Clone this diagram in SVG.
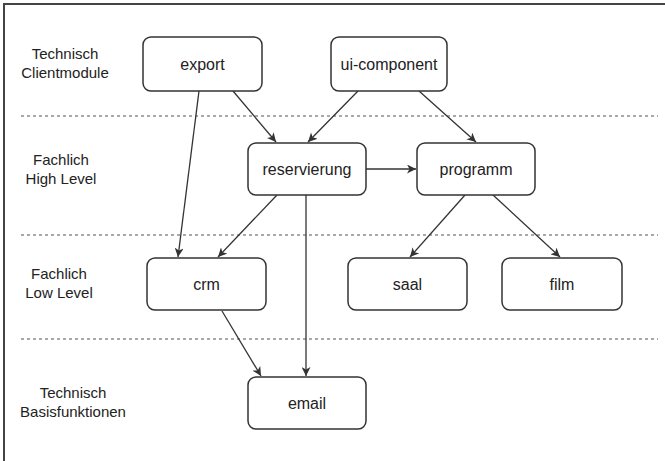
<svg xmlns="http://www.w3.org/2000/svg" width="665" height="461" viewBox="0 0 665 461">
<style>
  .bg { fill: #ffffff; }
  .frame { stroke: #444444; stroke-width: 2; fill: none; }
  .sep { stroke: #555555; stroke-width: 1.2; stroke-dasharray: 3 3; fill: none; }
  .box { fill: #ffffff; stroke: #333333; stroke-width: 1.5; }
  .lbl { font-family: "Liberation Sans", Arial, sans-serif; font-size: 16px; fill: #222222; text-anchor: middle; }
  .side { font-family: "Liberation Sans", Arial, sans-serif; font-size: 15px; fill: #222222; text-anchor: middle; }
  .edge { stroke: #333333; stroke-width: 1.3; fill: none; marker-end: url(#arr); }
</style>
<defs>
  <marker id="arr" markerUnits="userSpaceOnUse" markerWidth="10" markerHeight="9" refX="9" refY="4.5" orient="auto">
    <path d="M0,0 L9,4.5 L0,9 L2.5,4.5 Z" fill="#333333"/>
  </marker>
</defs>
<rect class="bg" x="0" y="0" width="665" height="461"/>
<g id="frame">
  <path class="frame" d="M4,461 L4,4 L665,4"/>
</g>
<g id="separators">
  <line class="sep" x1="21" y1="116" x2="658" y2="116"/>
  <line class="sep" x1="21" y1="235" x2="658" y2="235"/>
  <line class="sep" x1="21" y1="339" x2="658" y2="339"/>
</g>
<g id="layer-labels">
  <text class="side" x="65" y="59">Technisch</text>
  <text class="side" x="65" y="78">Clientmodule</text>
  <text class="side" x="61" y="165">Fachlich</text>
  <text class="side" x="61" y="184">High Level</text>
  <text class="side" x="59" y="279">Fachlich</text>
  <text class="side" x="59" y="298">Low Level</text>
  <text class="side" x="73" y="398">Technisch</text>
  <text class="side" x="73" y="417">Basisfunktionen</text>
</g>
<g id="connectors">
  <line class="edge" x1="199" y1="91" x2="178" y2="257"/>
  <line class="edge" x1="233" y1="91" x2="276" y2="142"/>
  <line class="edge" x1="358" y1="91" x2="308" y2="142"/>
  <line class="edge" x1="419" y1="91" x2="476" y2="142"/>
  <line class="edge" x1="366" y1="169" x2="416" y2="169"/>
  <line class="edge" x1="277" y1="195" x2="218" y2="257"/>
  <line class="edge" x1="306" y1="195" x2="306" y2="376"/>
  <line class="edge" x1="465" y1="195" x2="410" y2="257"/>
  <line class="edge" x1="493" y1="195" x2="560" y2="257"/>
  <line class="edge" x1="222" y1="311" x2="261" y2="376"/>
</g>
<g id="node-export">
  <rect class="box" x="143" y="37" width="119" height="54" rx="8"/>
  <text class="lbl" x="202.5" y="69.5">export</text>
</g>
<g id="node-ui-component">
  <rect class="box" x="331" y="37" width="116" height="54" rx="8"/>
  <text class="lbl" x="389" y="69.5">ui-component</text>
</g>
<g id="node-reservierung">
  <rect class="box" x="248" y="143" width="118" height="52" rx="8"/>
  <text class="lbl" x="307" y="174.5">reservierung</text>
</g>
<g id="node-programm">
  <rect class="box" x="417" y="143" width="118" height="52" rx="8"/>
  <text class="lbl" x="476" y="174.5">programm</text>
</g>
<g id="node-crm">
  <rect class="box" x="147" y="258" width="119" height="52" rx="8"/>
  <text class="lbl" x="206.5" y="289.5">crm</text>
</g>
<g id="node-saal">
  <rect class="box" x="348" y="258" width="119" height="52" rx="8"/>
  <text class="lbl" x="407.5" y="289.5">saal</text>
</g>
<g id="node-film">
  <rect class="box" x="502" y="258" width="120" height="52" rx="8"/>
  <text class="lbl" x="562" y="289.5">film</text>
</g>
<g id="node-email">
  <rect class="box" x="248" y="377" width="118" height="52" rx="8"/>
  <text class="lbl" x="307" y="408.5">email</text>
</g>
</svg>
